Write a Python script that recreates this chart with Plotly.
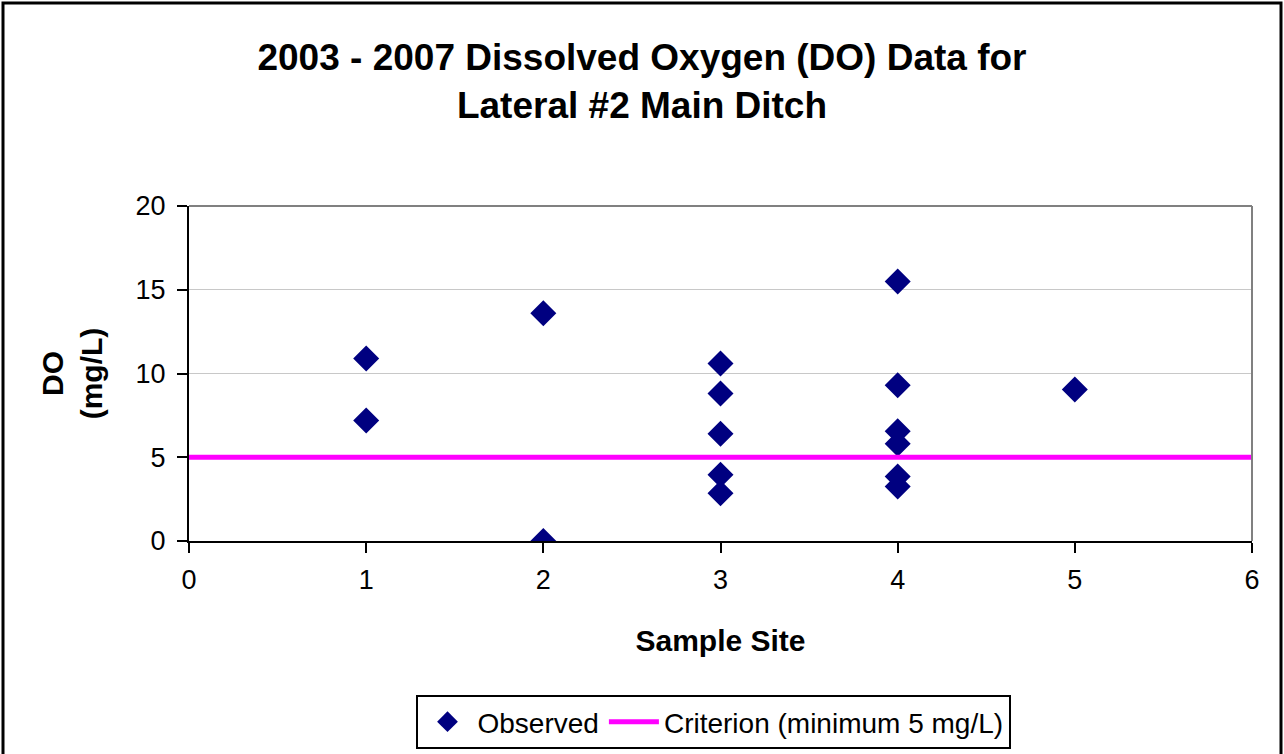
import plotly.graph_objects as go

site = [1, 1, 2, 2, 3, 3, 3, 3, 3, 4, 4, 4, 4, 4, 4, 5]
do_mgl = [10.9, 7.2, 13.6, 0.0, 10.6, 8.8, 6.4, 3.95, 2.85, 15.5, 9.3, 6.55, 5.8, 3.85, 3.25, 9.05]
crit_x = [0, 6]
crit_y = [5, 5]

fig = go.Figure()
fig.add_trace(go.Scatter(x=site, y=do_mgl, mode="markers", name="Observed",
                         marker=dict(symbol="diamond", size=20, color="#000080")))
fig.add_trace(go.Scatter(x=crit_x, y=crit_y, mode="lines", name="Criterion (minimum 5 mg/L)",
                         line=dict(color="#FF00FF", width=5)))

L, R, T, B = 189, 1252, 206, 541
W, H = 1284, 754
pw, ph = R - L, B - T
def px(x): return (x - L) / pw
def py(y): return (B - y) / ph

fig.update_layout(
    width=W, height=H,
    margin=dict(l=L, r=W - R, t=T, b=H - B, autoexpand=False),
    paper_bgcolor="white", plot_bgcolor="white",
    font=dict(family="Liberation Sans, Arial, sans-serif", color="black", size=27),
    title=dict(text="<b>2003 - 2007 Dissolved Oxygen (DO) Data for<br>Lateral #2 Main Ditch</b>",
               x=0.5, xanchor="center", y=1 - 70 / H, yanchor="middle",
               font=dict(size=37)),
    xaxis=dict(range=[0, 6], dtick=1, showline=True, linecolor="black", linewidth=2,
               ticks="outside", ticklen=10, tickcolor="black", tickwidth=2, showgrid=False,
               zeroline=False, mirror=False, tickfont=dict(size=27), automargin=False,
               ticklabelstandoff=4,
               title=dict(text="<b>Sample Site</b>", font=dict(size=30), standoff=36)),
    yaxis=dict(range=[0, 20], dtick=5, showline=True, linecolor="black", linewidth=2,
               ticks="outside", ticklen=10, tickcolor="black", tickwidth=2,
               showgrid=True, gridcolor="#C8C8C8", gridwidth=1, zeroline=False,
               tickfont=dict(size=27), automargin=False, ticklabelstandoff=6,
               title=dict(text="<b>DO<br>(mg/L)</b>", font=dict(size=30), standoff=24)),
    showlegend=True,
    legend=dict(orientation="h", x=px(713), xanchor="center", y=py(695), yanchor="top",
                bordercolor="black", borderwidth=2, font=dict(size=28),
                itemwidth=50, tracegroupgap=0),
    shapes=[
        dict(type="line", xref="paper", yref="paper", x0=0, x1=1, y0=1, y1=1,
             line=dict(color="#808080", width=2)),
        dict(type="line", xref="paper", yref="paper", x0=1, x1=1, y0=0, y1=1,
             line=dict(color="#808080", width=2)),
        dict(type="rect", xref="paper", yref="paper", x0=px(3), x1=px(1281), y0=py(3), y1=py(760),
             line=dict(color="black", width=3), fillcolor="rgba(0,0,0,0)", layer="below"),
    ],
)

fig.write_html("out.html", config={"displayModeBar": False},
               post_script="document.body.style.margin='0';")
